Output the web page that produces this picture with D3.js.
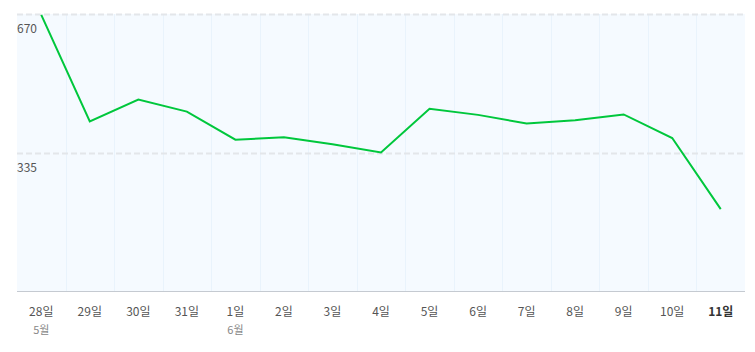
<!DOCTYPE html>
<meta charset="utf-8" />
<title>일별 추이</title>
<style>
  body { margin: 0; background: #fff; }
  text { font-family: "Noto Sans CJK KR", "Noto Sans", sans-serif; }
</style>
<body>
<svg width="755" height="352"></svg>
<script src="https://d3js.org/d3.v7.min.js"></script>
<script>
  // data
  const days = ["28일", "29일", "30일", "31일", "1일", "2일", "3일", "4일", "5일", "6일", "7일", "8일", "9일", "10일", "11일"];
  const months = ["5월", "", "", "", "6월", "", "", "", "", "", "", "", "", "", ""];
  const values = [668, 410, 463, 434, 366, 372, 355, 335, 441, 426, 405, 413, 427, 370, 198];
  const yTicks = [335, 670];

  const width = 755, height = 352;
  const margin = { top: 14, right: 10, bottom: 61, left: 17 };
  const svg = d3.select("svg");

  const x = d3.scaleBand()
    .domain(days)
    .range([margin.left, width - margin.right]);

  const y = d3.scaleLinear()
    .domain([0, 670])
    .range([height - margin.bottom, margin.top]);

  // plot background
  svg.append("rect")
    .attr("x", margin.left)
    .attr("y", margin.top)
    .attr("width", width - margin.left - margin.right)
    .attr("height", y(0) - margin.top)
    .attr("fill", "#f5faff");

  // vertical band separators
  svg.append("g")
    .selectAll("line")
    .data(days.slice(1))
    .join("line")
    .attr("x1", d => Math.round(x(d)) + 0.5)
    .attr("x2", d => Math.round(x(d)) + 0.5)
    .attr("y1", margin.top)
    .attr("y2", y(0))
    .attr("stroke", "#e9f3fc")
    .attr("stroke-width", 1);

  // dashed horizontal grid
  svg.append("g")
    .selectAll("line")
    .data(yTicks)
    .join("line")
    .attr("x1", margin.left)
    .attr("x2", width - margin.right)
    .attr("y1", d => Math.round(y(d)) + 0.5)
    .attr("y2", d => Math.round(y(d)) + 0.5)
    .attr("stroke", "#e3e6ea")
    .attr("stroke-width", 2)
    .attr("stroke-dasharray", "6,3");

  // y tick labels sit just below their grid lines
  svg.append("g")
    .selectAll("text")
    .data(yTicks)
    .join("text")
    .attr("x", margin.left)
    .attr("y", d => y(d) + 19)
    .attr("font-size", 12)
    .attr("fill", "#555")
    .text(d => d);

  // x axis baseline
  svg.append("line")
    .attr("x1", margin.left)
    .attr("x2", width - margin.right)
    .attr("y1", Math.round(y(0)) + 0.5)
    .attr("y2", Math.round(y(0)) + 0.5)
    .attr("stroke", "#c5cad1");

  // x labels
  const xl = svg.append("g")
    .selectAll("g")
    .data(days)
    .join("g")
    .attr("transform", d => `translate(${x(d) + x.bandwidth() / 2},0)`);

  xl.append("text")
    .attr("y", 316)
    .attr("text-anchor", "middle")
    .attr("font-size", 12)
    .attr("font-weight", (d, i) => i === days.length - 1 ? "bold" : "normal")
    .attr("fill", (d, i) => i === days.length - 1 ? "#333" : "#555")
    .text(d => d);

  xl.append("text")
    .attr("y", 334)
    .attr("text-anchor", "middle")
    .attr("font-size", 11)
    .attr("fill", "#888")
    .text((d, i) => months[i]);

  // line
  const line = d3.line()
    .x((d, i) => x(days[i]) + x.bandwidth() / 2)
    .y(d => y(d));

  svg.append("path")
    .datum(values)
    .attr("fill", "none")
    .attr("stroke", "#00c73c")
    .attr("stroke-width", 2)
    .attr("stroke-linejoin", "miter")
    .attr("d", line);
</script>
</body>
